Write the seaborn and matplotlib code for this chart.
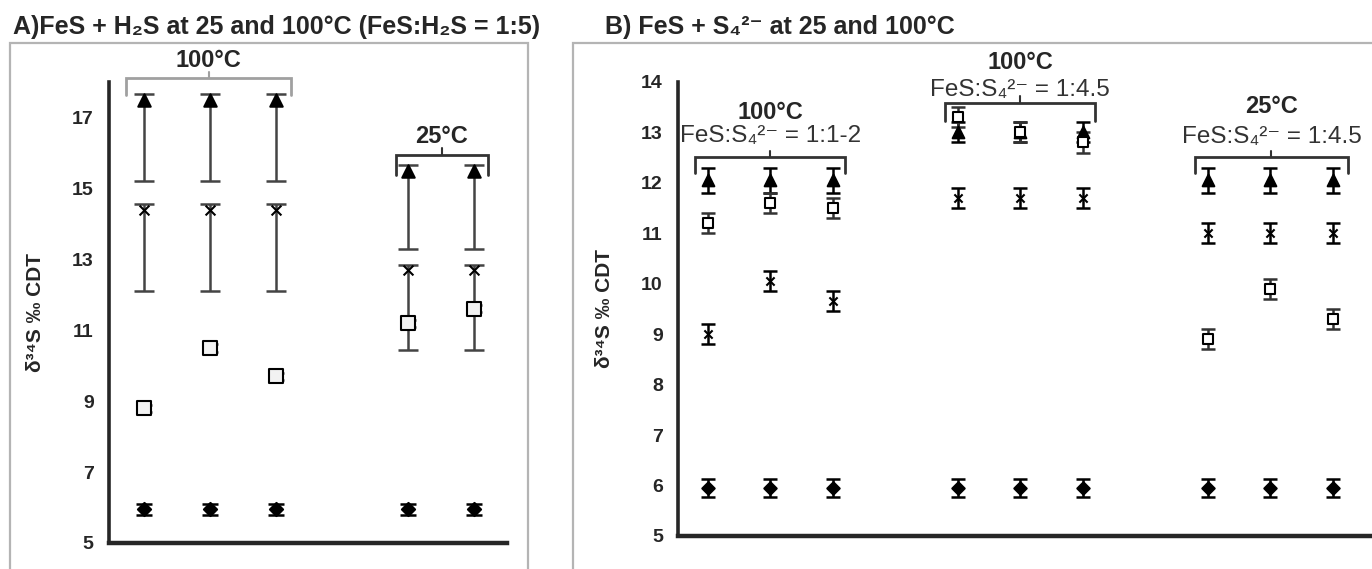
import matplotlib.pyplot as plt
import pandas as pd
import seaborn as sns

sns.set_style("white")
plt.rcParams['font.family'] = ['Liberation Sans Narrow', 'Liberation Sans', 'DejaVu Sans']

# Panel A: FeS + H2S, sample slots (gap at 4 between 100 and 25 C)
a_pos = [1, 2, 3, 5, 6]
a_tri = [17.5, 17.5, 17.5, 15.5, 15.5]
a_tri_lo = [2.3, 2.3, 2.3, 2.2, 2.2]
a_tri_hi = [0.15, 0.15, 0.15, 0.15, 0.15]
a_x = [14.4, 14.4, 14.4, 12.7, 12.7]
a_x_lo = [2.3, 2.3, 2.3, 2.25, 2.25]
a_x_hi = [0.15, 0.15, 0.15, 0.15, 0.15]
a_sq = [8.8, 10.5, 9.7, 11.2, 11.6]
a_sq_err = [0.1, 0.1, 0.1, 0.1, 0.1]
a_dia = [5.95, 5.95, 5.95, 5.95, 5.95]
a_dia_err = [0.15, 0.15, 0.15, 0.15, 0.15]

# Panel B: FeS + S4(2-)
b_pos = [1, 2, 3, 5, 6, 7, 9, 10, 11]
b_tri = [12.05, 12.05, 12.05, 13.0, 13.0, 13.0, 12.05, 12.05, 12.05]
b_tri_err = [0.25, 0.25, 0.25, 0.2, 0.2, 0.2, 0.25, 0.25, 0.25]
b_sq = [11.2, 11.6, 11.5, 13.3, 13.0, 12.8, 8.9, 9.9, 9.3]
b_sq_err = [0.2, 0.2, 0.2, 0.2, 0.2, 0.2, 0.2, 0.2, 0.2]
b_x = [9.0, 10.05, 9.65, 11.7, 11.7, 11.7, 11.0, 11.0, 11.0]
b_x_err = [0.2, 0.2, 0.2, 0.2, 0.2, 0.2, 0.2, 0.2, 0.2]
b_dia = [5.95, 5.95, 5.95, 5.95, 5.95, 5.95, 5.95, 5.95, 5.95]
b_dia_err = [0.18, 0.18, 0.18, 0.18, 0.18, 0.18, 0.18, 0.18, 0.18]

# bracket groups: (first slot, last slot, temperature, ratio text)
a_groups = [(1, 3, '100°C', None), (5, 6, '25°C', None)]
b_groups = [(1, 3, '100°C', 'FeS:S₄²⁻ = 1:1-2'),
            (5, 7, '100°C', 'FeS:S₄²⁻ = 1:4.5'),
            (9, 11, '25°C', 'FeS:S₄²⁻ = 1:4.5')]

fig = plt.figure(figsize=(13.72, 5.69), dpi=100)
axA = fig.add_axes([0.0794, 0.0457, 0.2901, 0.8102])
axB = fig.add_axes([0.4942, 0.058, 0.5044, 0.798])

# grey panel frames
fig.add_artist(plt.Rectangle((0.0073, -0.05), 0.3776, 0.9744, transform=fig.transFigure,
                             fill=False, edgecolor='#b4b4b4', lw=1.6))
fig.add_artist(plt.Rectangle((0.4176, -0.05), 0.62, 0.9744, transform=fig.transFigure,
                             fill=False, edgecolor='#b4b4b4', lw=1.6))


def draw_series(ax, pos, vals, lo, hi, marker, face, size, ecol, cap):
    ax.errorbar(pos, vals, yerr=[lo, hi], fmt='none', ecolor=ecol, elinewidth=1.8,
                capsize=cap, capthick=1.8, zorder=2)
    df = pd.DataFrame({'pos': pos, 'val': vals})
    sns.scatterplot(data=df, x='pos', y='val', marker=marker, s=size, color=face,
                    edgecolor='black', linewidth=1.5, ax=ax, zorder=3, legend=False)


# panel A
draw_series(axA, a_pos, a_dia, a_dia_err, a_dia_err, 'D', 'black', 45, 'black', 6)
draw_series(axA, a_pos, a_sq, a_sq_err, a_sq_err, 's', '#f2f2f2', 90, '#444444', 6)
draw_series(axA, a_pos, a_x, a_x_lo, a_x_hi, 'x', 'black', 50, '#444444', 7)
draw_series(axA, a_pos, a_tri, a_tri_lo, a_tri_hi, '^', 'black', 80, '#444444', 7)

# panel B
draw_series(axB, b_pos, b_dia, b_dia_err, b_dia_err, 'D', 'black', 40, 'black', 5)
draw_series(axB, b_pos, b_x, b_x_err, b_x_err, 'x', 'black', 35, 'black', 5)
draw_series(axB, b_pos, b_tri, b_tri_err, b_tri_err, '^', 'black', 70, 'black', 5)
draw_series(axB, b_pos, b_sq, b_sq_err, b_sq_err, 's', 'white', 55, '#333333', 5)

for ax, lim, ticks in [(axA, (5, 18), range(5, 18, 2)), (axB, (5, 14), range(5, 15))]:
    ax.set_ylim(*lim)
    ax.set_yticks(list(ticks))
    ax.set_xticks([])
    ax.set_xlabel('')
    ax.spines['top'].set_visible(False)
    ax.spines['right'].set_visible(False)
    ax.spines['left'].set_linewidth(2.6)
    ax.spines['bottom'].set_linewidth(3.2)
    ax.tick_params(axis='y', direction='out', length=5, width=2, pad=6, labelsize=14)
    for t in ax.get_yticklabels():
        t.set_fontweight('bold')
    ax.set_ylabel('δ³⁴S ‰ CDT', fontsize=15, fontweight='bold')
    ax.set_facecolor('none')

axA.set_xlim(0.47, 6.5)
axB.set_xlim(0.52, 11.6)
axA.yaxis.set_label_coords(-0.16, 0.5)
axB.yaxis.set_label_coords(-0.092, 0.5)

# group brackets with temperature / ratio labels
def bracket(ax, x0, x1, ytop, drop, col, temp, temp_y, ratio=None, ratio_y=None):
    xm = (x0 + x1) / 2
    ax.plot([x0, x0, x1, x1], [ytop - drop, ytop, ytop, ytop - drop], color=col,
            lw=2, clip_on=False, solid_joinstyle='miter')
    ax.plot([xm, xm], [ytop, ytop + drop * 0.35], color=col, lw=1.5, clip_on=False)
    ax.text(xm, temp_y, temp, ha='center', va='center', fontsize=17,
            fontweight='bold', clip_on=False)
    if ratio:
        ax.text(xm, ratio_y, ratio, ha='center', va='center', fontsize=17.5,
                color='#333333', clip_on=False)


g = a_groups
bracket(axA, g[0][0] - 0.27, g[0][1] + 0.23, 18.1, 0.48, '#a0a0a0', g[0][2], 18.6)
bracket(axA, g[1][0] - 0.18, g[1][1] + 0.21, 15.93, 0.56, '#333333', g[1][2], 16.45)

g = b_groups
bracket(axB, g[0][0] - 0.21, g[0][1] + 0.2, 12.52, 0.32, '#333333', g[0][2], 13.39, g[0][3], 12.92)
bracket(axB, g[1][0] - 0.2, g[1][1] + 0.2, 13.59, 0.36, '#333333', g[1][2], 14.38, g[1][3], 13.85)
bracket(axB, g[2][0] - 0.2, g[2][1] + 0.24, 12.52, 0.32, '#333333', g[2][2], 13.51, g[2][3], 12.9)

fig.text(0.0095, 0.9525, 'A)FeS + H₂S at 25 and 100°C (FeS:H₂S = 1:5)', fontsize=18,
         fontweight='bold', va='center', ha='left')
fig.text(0.441, 0.9525, 'B) FeS + S₄²⁻ at 25 and 100°C', fontsize=18,
         fontweight='bold', va='center', ha='left')

plt.savefig("out.png", dpi=100)
